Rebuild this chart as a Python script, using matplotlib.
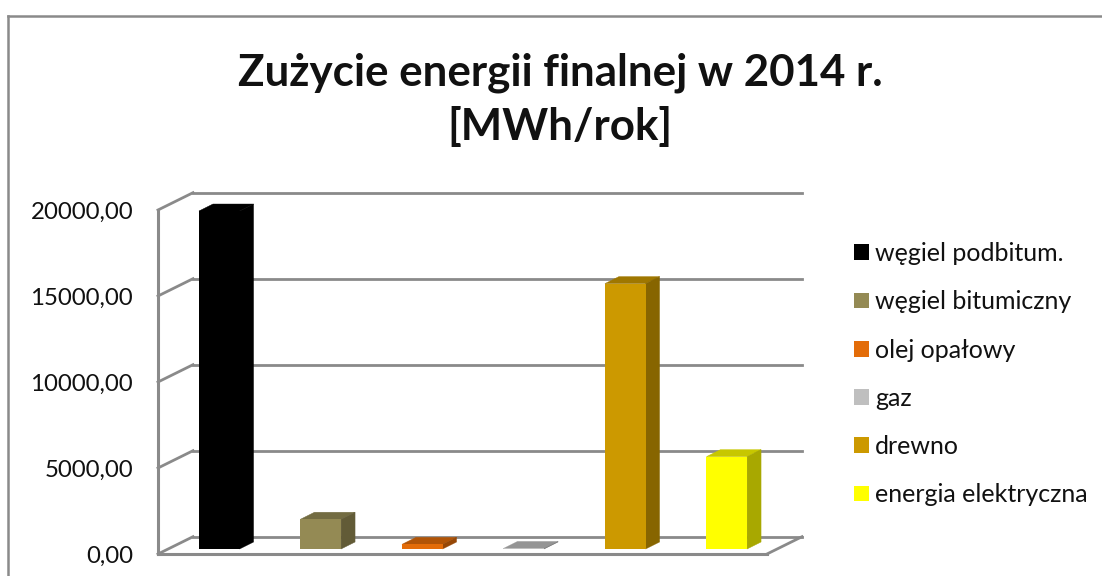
import matplotlib
import matplotlib.pyplot as plt
from matplotlib.lines import Line2D
from matplotlib.patches import Polygon
from matplotlib.colors import to_rgb

matplotlib.use('agg')

names = ["węgiel podbitum.", "węgiel bitumiczny", "olej opałowy", "gaz", "drewno", "energia elektryczna"]
values = [19650, 1730, 270, 30, 15430, 5370]
colors = ["#000000", "#948A54", "#E36C09", "#BFBFBF", "#CC9900", "#FFFF00"]
y_ticks = [0, 5000, 10000, 15000, 20000]
y_labels = ["0,00", "5000,00", "10000,00", "15000,00", "20000,00"]
title = "Zużycie energii finalnej w 2014 r.\n[MWh/rok]"

W, H = 1102, 576
GREY = "#8A8A8A"


def shade(color, factor):
    return tuple(c * factor for c in to_rgb(color))


plt.rcParams['font.family'] = ['Lato', 'DejaVu Sans']

fig = plt.figure(figsize=(W / 100, H / 100), dpi=100)
ax = fig.add_axes([158 / W, 1 - 554 / H, 609 / W, 344 / H])
ax.set_xlim(0, 6)
ax.set_ylim(0, 20000)
ax.patch.set_alpha(0)

# pixels to data units, the 3d look is just shifted polygons
px_x = 6 / 609
px_y = 20000 / 344
wall_x, wall_y = 35 * px_x, 17.3 * px_y
bar_x, bar_y = 10.5 * px_x, 5 * px_y
depth_x, depth_y = 14 * px_x, 7 * px_y
width = 0.4

# walls and floor
for t in y_ticks:
    ax.plot([0, wall_x], [t, t + wall_y], color=GREY, lw=2, clip_on=False, zorder=1)
    ax.plot([wall_x, 6 + wall_x], [t + wall_y, t + wall_y], color=GREY, lw=2, clip_on=False, zorder=1)
ax.plot([6, 6 + wall_x], [0, wall_y], color=GREY, lw=2, clip_on=False, zorder=1)

# bars
for i, (name, val, col) in enumerate(zip(names, values, colors)):
    cx = i + 0.5 + bar_x
    x0, x1 = cx - width / 2, cx + width / 2
    ax.bar(cx, val, width=width, bottom=bar_y, color=col, label=name, clip_on=False, zorder=4)
    top = val + bar_y
    top_col = shade(col, 0.78)
    side_col = shade(col, 0.66)
    ax.add_patch(Polygon([(x0, top), (x1, top), (x1 + depth_x, top + depth_y), (x0 + depth_x, top + depth_y)],
                         closed=True, fc=top_col, ec=top_col, lw=0.3, clip_on=False, zorder=3))
    ax.add_patch(Polygon([(x1, bar_y), (x1, top), (x1 + depth_x, top + depth_y), (x1 + depth_x, bar_y + depth_y)],
                         closed=True, fc=side_col, ec=side_col, lw=0.3, clip_on=False, zorder=3))

ax.set_xticks([])
ax.set_yticks(y_ticks)
ax.set_yticklabels(y_labels, fontsize=17.3, color="#111111")
ax.tick_params(axis='y', length=0, pad=18)
for side in ['top', 'right']:
    ax.spines[side].set_visible(False)
for side in ['left', 'bottom']:
    ax.spines[side].set_color(GREY)
    ax.spines[side].set_linewidth(2.2)
    ax.spines[side].set_zorder(2)

fig.text(560 / W, 1 - 100 / H, title, ha='center', va='center', fontsize=31.6, fontweight='bold',
         color="#111111", linespacing=1.38)

fig.legend(loc='upper left', bbox_to_anchor=(854 / W, 1 - 242 / H), frameon=False, fontsize=18,
           borderpad=0, borderaxespad=0, handlelength=0.6, handleheight=0.6, handletextpad=0.25,
           labelspacing=1.01, labelcolor="#111111")

# chart frame, only left and top are inside the crop
fig.add_artist(Line2D([7.5 / W, 7.5 / W], [0, 1 - 15.5 / H], color=GREY, lw=1.8))
fig.add_artist(Line2D([7.5 / W, 1], [1 - 15.5 / H, 1 - 15.5 / H], color=GREY, lw=1.8))

fig.savefig("out.png", dpi=100)
